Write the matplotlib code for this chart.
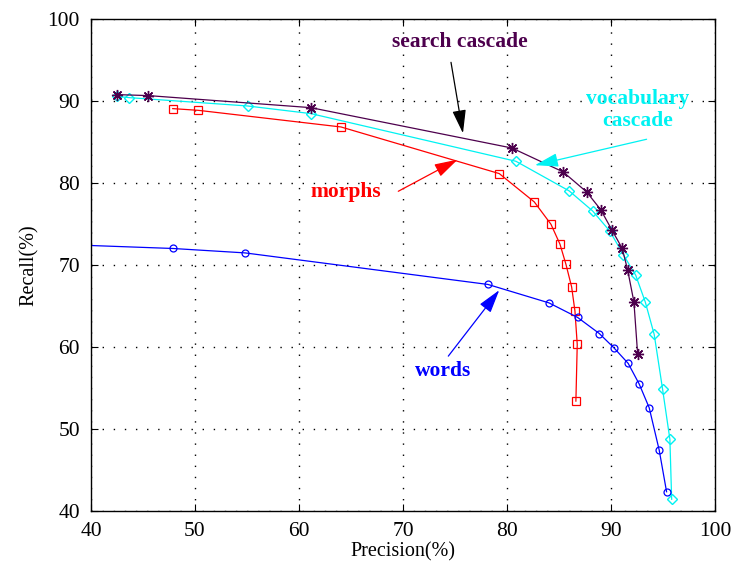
import matplotlib
matplotlib.use("Agg")
import matplotlib.pyplot as plt
import numpy as np

plt.rcParams['font.family'] = ['Liberation Serif', 'DejaVu Serif']

# precision / recall points for each system (in %)
search_prec = [42.47, 45.51, 61.13, 80.48, 85.41, 87.66, 89.01, 90.07, 91.09, 91.61, 92.21, 92.57]
search_rec = [90.82, 90.70, 89.23, 84.30, 81.38, 78.94, 76.79, 74.35, 72.04, 69.39, 65.52, 59.11]

vocab_prec = [42.50, 43.68, 55.07, 61.15, 80.87, 85.99, 88.24, 89.90, 91.18, 92.38, 93.30, 94.16, 94.97, 95.67, 95.84]
vocab_rec = [90.60, 90.45, 89.43, 88.50, 82.68, 79.06, 76.62, 74.15, 71.30, 68.78, 65.52, 61.55, 54.84, 48.74, 41.43]

morph_prec = [47.86, 50.32, 64.04, 79.26, 82.63, 84.23, 85.10, 85.67, 86.22, 86.54, 86.76, 86.63]
morph_rec = [89.11, 88.90, 86.87, 81.18, 77.72, 75.00, 72.56, 70.12, 67.35, 64.39, 60.33, 53.41]

words_prec = [30.00, 47.86, 54.81, 78.17, 84.04, 86.80, 88.88, 90.29, 91.66, 92.72, 93.68, 94.64, 95.35]
words_rec = [72.86, 72.04, 71.50, 67.65, 65.40, 63.62, 61.66, 59.91, 58.01, 55.49, 52.60, 47.44, 42.35]

x_ticks = [40, 50, 60, 70, 80, 90, 100]
y_ticks = [40, 50, 60, 70, 80, 90, 100]

purple = (0.3, 0.0, 0.3)
cyan = (0.0, 0.95, 0.95)
red = (1.0, 0.0, 0.0)
blue = (0.0, 0.0, 1.0)

fig = plt.figure(figsize=(7.34, 5.67), dpi=100)
ax = fig.add_axes([0.124, 0.0988, 0.850, 0.867])

ax.plot(vocab_prec, vocab_rec, '-', color=cyan, lw=0.9, marker='D', ms=5,
        mfc='none', mec=cyan, mew=1.0)
ax.plot(search_prec, search_rec, '-', color=purple, lw=0.9, marker=(8, 2, 0), ms=8,
        mec=purple, mew=1.0)
ax.plot(morph_prec, morph_rec, '-', color=red, lw=0.9, marker='s', ms=5.5,
        mfc='none', mec=red, mew=0.9)
ax.plot(words_prec, words_rec, '-', color=blue, lw=0.9, marker='o', ms=5,
        mfc='none', mec=blue, mew=0.9)

ax.set_xlim(40, 100)
ax.set_ylim(40, 100)
ax.set_xticks(x_ticks)
ax.set_yticks(y_ticks)
ax.tick_params(direction='in', top=True, right=True, length=5, width=0.8,
               labelsize=15.5)
ax.tick_params(axis='x', pad=8)
ax.tick_params(axis='y', pad=8)
ax.grid(True, linestyle=(0, (1, 7)), color='black', linewidth=1.0)
for s in ax.spines.values():
    s.set_linewidth(1.0)

ax.set_xlabel('Precision(%)', fontsize=14.5, labelpad=1)
ax.set_ylabel('Recall(%)', fontsize=14.5, labelpad=6)


def arrow(tail, head, color):
    ax.annotate('', xy=head, xytext=tail,
                arrowprops=dict(arrowstyle='-|>,head_length=1.2,head_width=0.35',
                                color=color, lw=0.9, shrinkA=0, shrinkB=0,
                                mutation_scale=12))


ax.text(75.5, 97.2, 'search cascade', color=purple, fontsize=15.5,
        fontweight='bold', ha='center', va='center')
arrow((74.62, 94.76), (75.77, 86.10), 'black')

ax.text(92.6, 88.9, 'vocabulary\ncascade', color=cyan, fontsize=15.5,
        fontweight='bold', ha='center', va='center', linespacing=1.15)
arrow((93.43, 85.37), (82.69, 82.2), cyan)

ax.text(64.5, 78.9, 'morphs', color=red, fontsize=15.5,
        fontweight='bold', ha='center', va='center')
arrow((69.55, 79.02), (75.26, 82.89), red)

ax.text(73.85, 57.07, 'words', color=blue, fontsize=15.5,
        fontweight='bold', ha='center', va='center')
arrow((74.36, 58.90), (79.26, 66.95), blue)

fig.savefig('out.png', dpi=100)
